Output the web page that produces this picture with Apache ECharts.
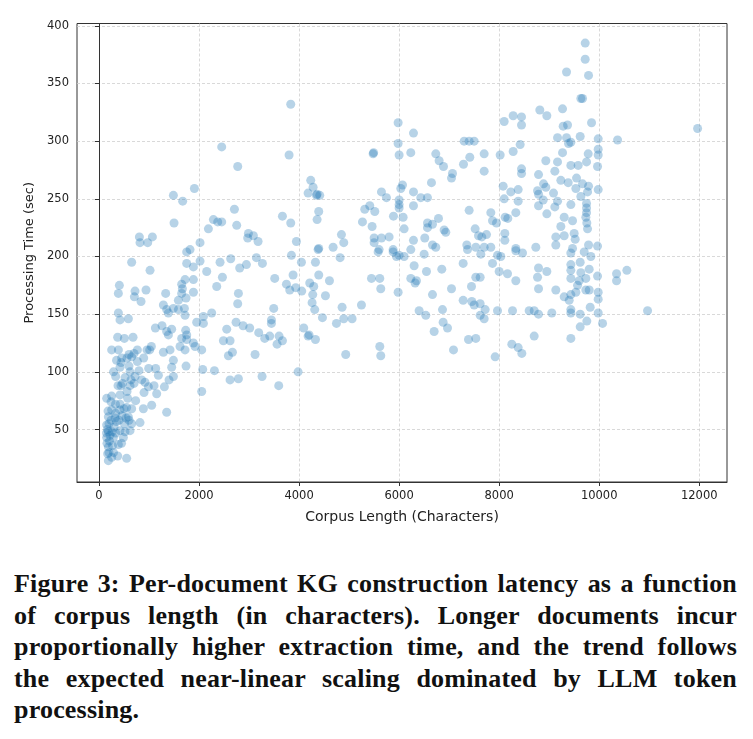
<!DOCTYPE html>
<html>
<head>
<meta charset="utf-8">
<script src="https://cdn.jsdelivr.net/npm/echarts@6/dist/echarts.min.js"></script>
<style>
  html, body { margin: 0; padding: 0; background: #fff; }
  #wrap { position: relative; width: 753px; height: 739px; }
  #chart { position: absolute; left: 0; top: 0; width: 753px; height: 560px; }
  #caption { position: absolute; left: 14px; top: 568px; width: 723px;
    font-family: "Liberation Serif", serif; font-weight: bold; font-size: 26px;
    line-height: 31.5px; letter-spacing: 0.2px; color: #111; }
  #caption div { text-align: justify; text-align-last: justify; }
  #caption div.last { text-align-last: left; }
</style>
</head>
<body>
<div id="wrap">
  <div id="chart"></div>
  <div id="caption">
    <div>Figure 3: Per-document KG construction latency as a function</div>
    <div>of corpus length (in characters). Longer documents incur</div>
    <div>proportionally higher extraction time, and the trend follows</div>
    <div>the expected near-linear scaling dominated by LLM token</div>
    <div class="last">processing.</div>
  </div>
</div>
<script>
// tick labels
var xTicks = [0, 2000, 4000, 6000, 8000, 10000, 12000];
var yTicks = [50, 100, 150, 200, 250, 300, 350, 400];

// [corpus length (characters), processing time (sec)] per document
var samples = [
  // short documents
  [653,195],[1020,188],[1753,204],[1753,194],[1887,191],[2020,196],[2153,187],[2420,195],[2633,198],[2467,182],
  [2353,174],[2787,168],[407,175],[387,168],[720,170],[707,165],[840,161],[940,171],[1333,168],[1353,154],
  [1287,158],[1387,151],[1587,162],[1653,168],[1667,172],[1720,180],[1653,176],[1740,164],[1887,180],[1887,169],
  [1707,155],[1720,149],[1587,154],[1487,155],[387,151],[420,145],[587,146],[1953,143],[2087,148],[2087,142],
  [2253,151],[2553,137],[2487,127],[2620,127],[2587,114],[2667,117],[2740,143],[2773,159],[2620,93],[2787,94],
  [2307,101],[2073,102],[2053,83],[1127,138],[1260,140],[1353,135],[1387,132],[1453,137],[1733,136],[1753,132],
  [1620,122],[1720,119],[1653,129],[1753,128],[1887,125],[2053,119],[1920,122],[1740,105],[1420,119],[1287,117],
  [1487,110],[1453,104],[1187,97],[1133,103],[993,103],[1047,122],[1013,119],[960,119],[893,112],[767,119],
  [700,116],[767,109],[653,113],[600,115],[387,119],[253,119],[373,130],[507,129],[453,112],[420,104],
  [333,96],[440,88],[620,100],[620,88],[720,96],[853,93],[920,91],[987,87],[1153,81],[1307,87],
  [1400,93],[1487,96],[153,77],[253,79],[420,80],[573,77],[733,75],[253,67],[333,64],[420,67],
  [553,69],[653,68],[887,68],[1053,71],[820,56],[587,61],[653,55],[187,61],[153,54],[187,48],
  [153,43],[187,35],[173,29],[187,23],[333,47],[420,49],[520,48],[620,49],[387,37],[373,27],
  [553,25],[253,26],[287,43],[487,43],[1353,65],
  [200,55],[240,58],[300,52],[350,57],[210,40],[270,36],[330,72],[180,66],[240,74],[400,58],
  [460,62],[510,55],[380,88],[290,100],[440,108],[520,95],[560,83],[600,105],[640,93],[700,90],
  [170,50],[220,45],[160,38],[290,30],[450,38],[500,68],[540,60],[600,58],[470,90],[350,110],
  [150,47],[200,30],[260,48],[320,60],[420,72],[560,112],[680,130],[800,101],[900,82],[1100,88],
  [2453,295],[2773,278],[1907,259],[1487,253],[1673,248],[1500,229],[2707,241],[2753,227],[2287,232],[2373,230],
  [2453,230],[2187,224],[2020,212],[1820,206],[807,217],[820,212],[973,212],[1067,217],
  // middle
  [3833,332],[3800,288],[5480,289],[5490,290],[5980,316],[5980,298],[6000,288],[4233,266],[4280,260],[4180,255],
  [4347,253],[4360,254],[4413,253],[4393,239],[4360,232],[3667,235],[3833,229],[3947,213],[2987,220],[3087,218],
  [2973,216],[3180,213],[4847,219],[4893,212],[4393,207],[4680,208],[5647,256],[5747,251],[5413,244],[5313,241],
  [5513,239],[5887,235],[5267,230],[5460,226],[6000,249],[6000,245],[5500,216],[5647,216],[5800,217],[5500,212],
  [5600,206],[5880,206],
  [2947,193],[3147,199],[3267,194],[2813,190],[2880,140],[3013,138],[3193,134],[3313,129],[3413,131],[3447,145],
  [3447,142],[3493,155],[3513,181],[3747,176],[3813,171],[3880,184],[3933,173],[3847,201],[4047,195],[4327,195],
  [4393,184],[4213,177],[4293,174],[4053,170],[4273,167],[4260,160],[4313,154],[4527,166],[4607,179],[4820,199],
  [4467,147],[4093,138],[4180,131],[4200,132],[4327,128],[3600,131],[3560,124],[3667,127],[3120,115],[3980,100],
  [3260,96],[3593,88],[4747,142],[4893,146],[5060,146],[4860,156],[5247,158],[4933,115],[5447,181],[5613,181],
  [5633,172],[5613,122],[5633,114],[5980,169],[5580,204],[5880,204],[5947,200],[4380,206],
  // long documents
  [6287,307],[6233,290],[7300,300],[7400,300],[7500,300],[6733,289],[6800,283],[6887,278],[7067,272],[7047,268],
  [7287,280],[7413,286],[7700,289],[7700,274],[8020,288],[8100,317],[8280,322],[8447,321],[8447,314],[8420,297],
  [8280,291],[8813,327],[8953,322],[9167,303],[8933,283],[9167,282],[9113,274],[8447,276],[8447,272],[8787,271],
  [6647,264],[6067,262],[6033,259],[6287,256],[6433,251],[6567,251],[6287,244],[6000,242],[6080,234],[6100,224],
  [6287,214],[8080,261],[8233,256],[8380,258],[8380,248],[8100,250],[8333,238],[8767,257],[8933,260],[8887,263],
  [8787,254],[8880,249],[9087,255],[9113,243],[9167,248],[8787,244],[8953,237],[7400,240],[7833,238],[7867,231],
  [7947,229],[8120,234],[8173,233],[6787,233],[6567,229],[6567,225],[6667,228],[6900,223],[6933,221],[7520,224],
  [7587,218],[7653,217],[7747,219],[8113,220],[8113,214],[6513,216],[6667,210],[6733,208],[7353,210],[7533,208],
  [7700,208],[7833,208],[8333,207],[8733,208],[9133,217],[9133,210],
  [6000,201],[6100,200],[6233,206],[6500,202],[6300,192],[6547,187],[6233,181],[6320,177],[6347,179],[6667,167],
  [6853,189],[7047,172],[7280,194],[7533,182],[7620,182],[7447,174],[7280,162],[7453,161],[7500,158],[7620,159],
  [7720,154],[7620,149],[7700,146],[6400,153],[6533,149],[6867,154],[6880,143],[6967,138],[6700,135],[7087,119],
  [7387,128],[7533,129],[7920,113],[7967,153],[8267,153],[8600,153],[8700,153],[8787,150],[9053,151],[8253,124],
  [8380,121],[8453,116],[8700,131],[7867,194],[8000,187],[8167,185],[8333,179],[7967,201],[8033,200],[7633,202],
  [8333,205],[8467,203],[8787,190],[8953,187],[8767,182],[8787,172],[9133,171],[7367,206],
  [9720,385],[9720,371],[9347,360],[9787,357],[9633,337],[9667,337],[9267,328],[11967,311],[9847,316],[9280,313],
  [9367,314],[9620,304],[9347,303],[9387,298],[9433,299],[9980,302],[10367,301],[9267,290],[9780,289],[9980,293],
  [9980,288],[9433,279],[9580,279],[9747,282],[9967,278],[9233,266],[9380,264],[9547,268],[9667,263],[9787,261],
  [9533,259],[9767,256],[9633,252],[9980,258],[9433,245],[9747,246],[9747,242],[9747,238],[9733,234],[9753,229],
  [9767,224],[9467,231],[9300,234],[9233,226],[9300,218],[9500,220],[9520,215],[9787,210],[9967,209],[9467,207],
  [9433,203],[9700,204],[9833,200],[9433,193],[9433,188],[9620,195],[9633,186],[9800,189],[9733,181],[9433,181],
  [9600,179],[9967,183],[10347,185],[10347,179],[10553,188],[9567,175],[9533,169],[9733,171],[9800,171],[9980,169],
  [9980,163],[9300,165],[9433,167],[9400,162],[9820,156],[9433,154],[9433,151],[9620,150],[9980,151],[9753,144],
  [10067,142],[9620,139],[9433,129],[10967,153]
];

var myChart = echarts.init(document.getElementById('chart'));

var gridLine = { show: true, lineStyle: { color: '#cfcfcf', width: 0.8, type: [3, 2] } };
var axisText = { fontFamily: 'DejaVu Sans', fontSize: 11.5, color: '#222' };
var plain = function (v) { return String(v); };

option = {
    animation: false,
    grid: {
        left: 77, right: 26, top: 23.5, bottom: 78,
        show: true, borderColor: '#333', borderWidth: 1
    },
    xAxis: {
        type: 'value',
        min: -440,
        max: 12555,
        splitNumber: 6,
        name: 'Corpus Length (Characters)',
        nameLocation: 'middle',
        nameGap: 28,
        nameTextStyle: { fontFamily: 'DejaVu Sans', fontSize: 14, color: '#222' },
        axisLine: { show: true, lineStyle: { color: '#333', width: 1 } },
        axisTick: { show: true, length: 4, lineStyle: { color: '#333' }, customValues: xTicks },
        axisLabel: Object.assign({ margin: 8, customValues: xTicks, formatter: plain }, axisText),
        splitLine: gridLine
    },
    yAxis: {
        type: 'value',
        min: 4.5,
        max: 402,
        splitNumber: 8,
        name: 'Processing Time (sec)',
        nameLocation: 'middle',
        nameGap: 37,
        nameTextStyle: { fontFamily: 'DejaVu Sans', fontSize: 13, color: '#222' },
        axisLine: { show: true, lineStyle: { color: '#333', width: 1 } },
        axisTick: { show: true, length: 4, lineStyle: { color: '#333' }, customValues: yTicks },
        axisLabel: Object.assign({ margin: 8, customValues: yTicks, formatter: plain }, axisText),
        splitLine: gridLine
    },
    series: [
        {
            type: 'scatter',
            data: samples,
            symbolSize: 9,
            itemStyle: { color: 'rgba(31,119,180,0.4)', borderWidth: 0 },
            emphasis: { disabled: true }
        }
    ]
};
myChart.setOption(option);
</script>
</body>
</html>
